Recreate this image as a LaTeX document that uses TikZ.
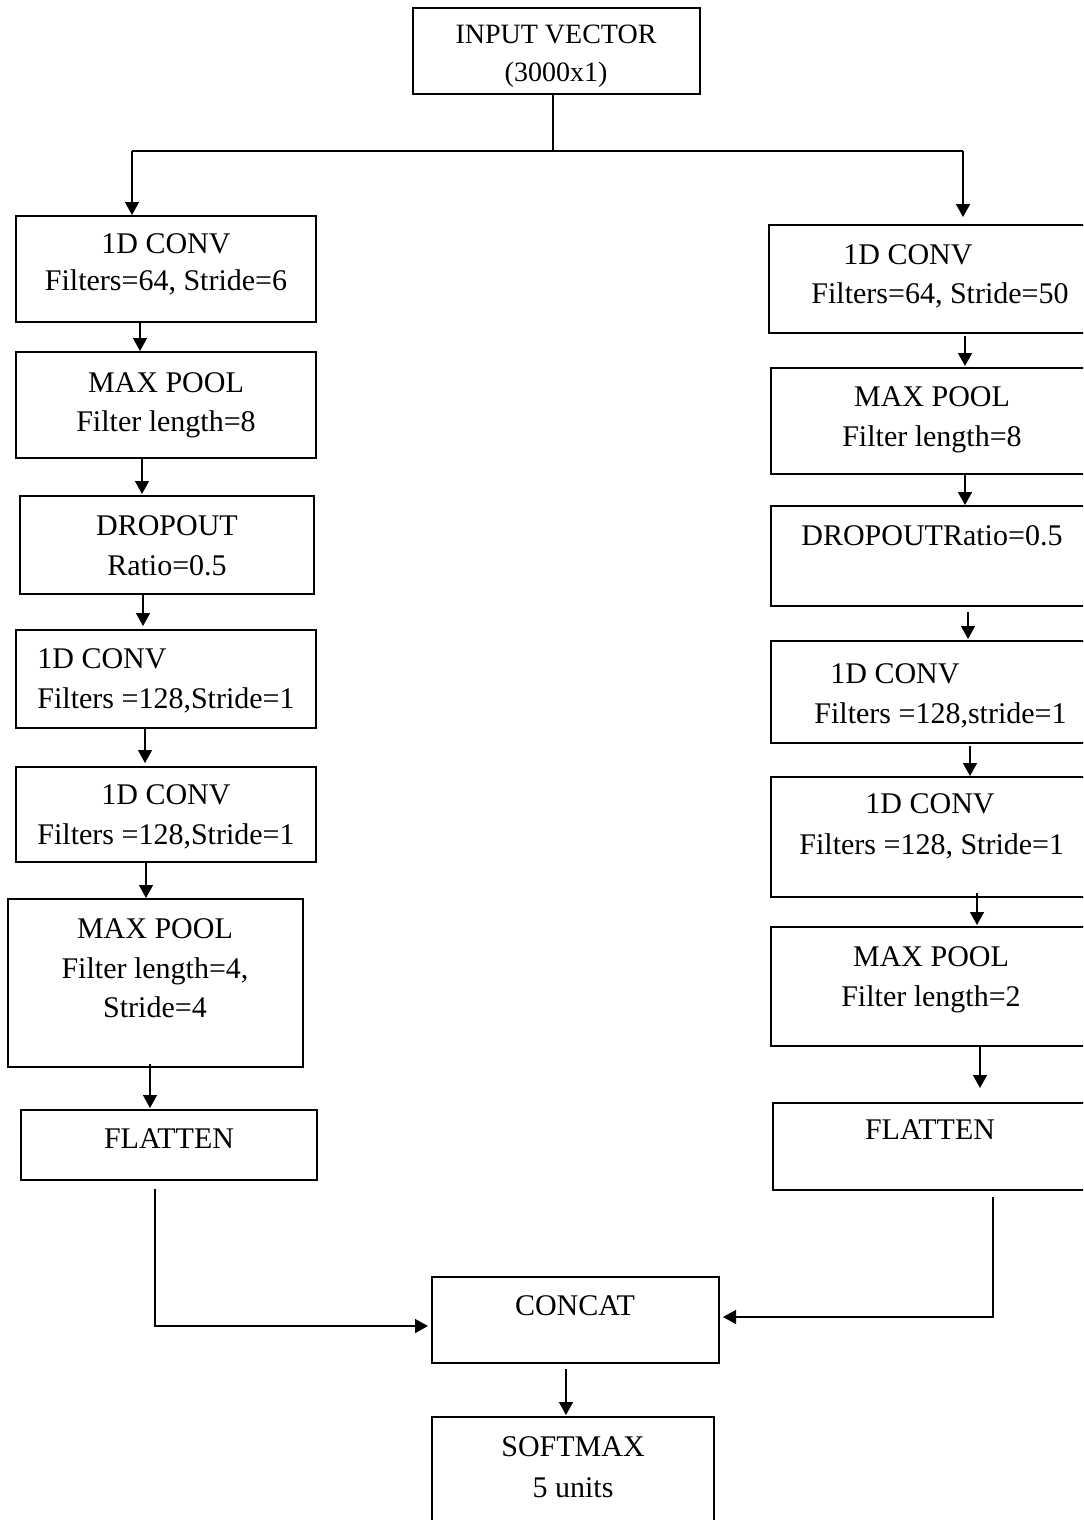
\documentclass[tikz,border=0pt]{standalone}
\usepackage{fontspec}
\setmainfont{Liberation Serif}
\usetikzlibrary{fit,calc,arrows.meta}
\tikzset{
  box/.style={draw=black, line width=1pt, inner sep=0pt, fit={#1}},
  txt/.style={anchor=base, inner sep=0pt, font=\fontsize{15}{18}\selectfont},
  txtw/.style={anchor=base west, inner sep=0pt, font=\fontsize{15}{18}\selectfont},
  arr/.style={draw=black, line width=0.7pt, -{Triangle[length=6.5pt,width=7pt]}},
  ln/.style={draw=black, line width=0.7pt}
}
\begin{document}
\begin{tikzpicture}[x=0.5pt,y=-0.5pt]
\useasboundingbox (0,0) rectangle (1083,1520);
\clip (0,0) rectangle (1083,1520);
% boxes
\node[box={(413,8) (700,94)}] (in) {};
\node[box={(16,216) (316,322)}] (l1) {};
\node[box={(16,352) (316,458)}] (l2) {};
\node[box={(20,496) (314,594)}] (l3) {};
\node[box={(16,630) (316,728)}] (l4) {};
\node[box={(16,767) (316,862)}] (l5) {};
\node[box={(8,899) (303,1067)}] (l6) {};
\node[box={(21,1110) (317,1180)}] (l7) {};
\node[box={(769,225) (1086,333)}] (r1) {};
\node[box={(771,368) (1086,474)}] (r2) {};
\node[box={(771,506) (1086,606)}] (r3) {};
\node[box={(771,641) (1086,743)}] (r4) {};
\node[box={(771,777) (1086,897)}] (r5) {};
\node[box={(771,927) (1086,1046)}] (r6) {};
\node[box={(773,1103) (1086,1190)}] (r7) {};
\node[box={(432,1277) (719,1363)}] (cc) {};
\node[box={(432,1417) (714,1530)}] (sm) {};
% texts
\node[txt, font=\fontsize{14}{17}\selectfont] (in1) at (556,44) {INPUT VECTOR};
\node[txt, font=\fontsize{14}{17}\selectfont] (in2) at (556,82) {(3000x1)};
\node[txt] (l1a) at (166,253) {1D CONV};
\node[txt] (l1b) at (166,290) {Filters=64, Stride=6};
\node[txt] (l2a) at (166,392) {MAX POOL};
\node[txt] (l2b) at (166,431) {Filter length=8};
\node[txt] (l3a) at (167,535) {DROPOUT};
\node[txt] (l3b) at (167,575) {Ratio=0.5};
\node[txtw] (l4a) at (37,668) {1D CONV};
\node[txtw] (l4b) at (37,708) {Filters =128,Stride=1};
\node[txt] (l5a) at (166,804) {1D CONV};
\node[txt] (l5b) at (166,844) {Filters =128,Stride=1};
\node[txt] (l6a) at (155,938) {MAX POOL};
\node[txt] (l6b) at (155,978) {Filter length=4,};
\node[txt] (l6c) at (155,1017) {Stride=4};
\node[txt] (l7a) at (169,1148) {FLATTEN};
\node[txtw] (r1a) at (843,264) {1D CONV};
\node[txtw] (r1b) at (811,303) {Filters=64, Stride=50};
\node[txt] (r2a) at (932,406) {MAX POOL};
\node[txt] (r2b) at (932,446) {Filter length=8};
\node[txtw] (r3a) at (801,545) {DROPOUTRatio=0.5};
\node[txtw] (r4a) at (830,683) {1D CONV};
\node[txtw] (r4b) at (814,723) {Filters =128,stride=1};
\node[txt] (r5a) at (930,813) {1D CONV};
\node[txtw] (r5b) at (799,854) {Filters =128, Stride=1};
\node[txt] (r6a) at (931,966) {MAX POOL};
\node[txt] (r6b) at (931,1006) {Filter length=2};
\node[txt] (r7a) at (930,1139) {FLATTEN};
\node[txt] (cca) at (575,1315) {CONCAT};
\node[txt] (sma) at (573,1456) {SOFTMAX};
\node[txt] (smb) at (573,1497) {5 units};
% split
\coordinate (split) at (553,151);
\coordinate (lt) at (132,151);
\coordinate (rt) at (963,151);
\draw[ln] (in.south -| split) -- (split);
\draw[ln] (lt) -- (rt);
\draw[arr] (lt) -- ($(l1.north)+(-34,0)$);
\draw[arr] (rt) -- ($(r1.north)+(35.5,-7)$);
% left chain
\draw[arr] ($(l1.south)+(-26,0)$) -- ($(l2.north)+(-26,0)$);
\draw[arr] ($(l2.south)+(-24,0)$) -- ($(l3.north)+(-25,-1)$);
\draw[arr] ($(l3.south)+(-24,0)$) -- ($(l4.north)+(-23,-3)$);
\draw[arr] ($(l4.south)+(-21,0)$) -- ($(l5.north)+(-21,-3)$);
\draw[arr] ($(l5.south)+(-20,0)$) -- ($(l6.north)+(-9.5,0)$);
\draw[arr] ($(l6.south)+(-5.5,-4)$) -- ($(l7.north)+(-19,-1)$);
\draw[arr] ($(l7.south)+(-14,8)$) |- ($(cc.west)+(-3,6)$);
% right chain
\draw[arr] ($(r1.south)+(37.5,2)$) -- ($(r2.north)+(36.5,-1)$);
\draw[arr] ($(r2.south)+(36.5,0)$) -- ($(r3.north)+(36.5,0)$);
\draw[arr] ($(r3.south)+(39.5,5)$) -- ($(r4.north)+(39.5,-1)$);
\draw[arr] ($(r4.south)+(41.5,2)$) -- ($(r5.north)+(41.5,0)$);
\draw[arr] ($(r5.south)+(48.5,-5)$) -- ($(r6.north)+(48.5,-1)$);
\draw[arr] ($(r6.south)+(51.5,0)$) -- ($(r7.north)+(50.5,-14)$);
\draw[arr] ($(r7.south)+(63.5,6)$) |- ($(cc.east)+(3,-3)$);
% bottom
\draw[arr] ($(cc.south)+(-9.5,5)$) -- ($(sm.north)+(-7,-1)$);
\end{tikzpicture}
\end{document}
